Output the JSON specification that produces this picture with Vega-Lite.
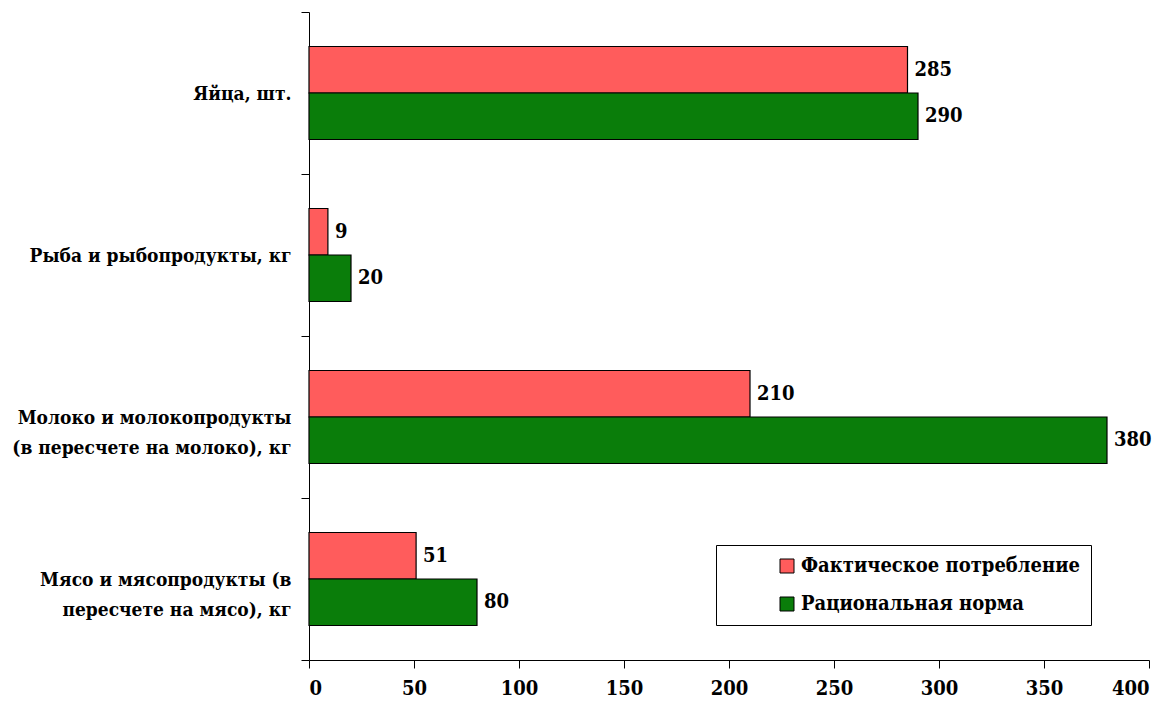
{
  "$schema": "https://vega.github.io/schema/vega-lite/v6.json",
  "width": 840,
  "height": 648,
  "autosize": {"type": "none"},
  "padding": {"left": 309, "top": 12, "right": 20, "bottom": 48},
  "background": "white",
  "config": {"view": {"stroke": null}, "font": "DejaVu Serif Condensed, DejaVu Serif"},
  "data": {
    "values": [
      {"category": "Яйца, шт.", "series": "Фактическое потребление", "value": 285},
      {"category": "Яйца, шт.", "series": "Рациональная норма", "value": 290},
      {"category": "Рыба и рыбопродукты, кг", "series": "Фактическое потребление", "value": 9},
      {"category": "Рыба и рыбопродукты, кг", "series": "Рациональная норма", "value": 20},
      {"category": "Молоко и молокопродукты|(в пересчете на молоко), кг", "series": "Фактическое потребление", "value": 210},
      {"category": "Молоко и молокопродукты|(в пересчете на молоко), кг", "series": "Рациональная норма", "value": 380},
      {"category": "Мясо и мясопродукты (в|пересчете на мясо), кг", "series": "Фактическое потребление", "value": 51},
      {"category": "Мясо и мясопродукты (в|пересчете на мясо), кг", "series": "Рациональная норма", "value": 80}
    ]
  },
  "encoding": {
    "y": {
      "field": "category",
      "type": "nominal",
      "sort": ["Яйца, шт.", "Рыба и рыбопродукты, кг", "Молоко и молокопродукты|(в пересчете на молоко), кг", "Мясо и мясопродукты (в|пересчете на мясо), кг"],
      "scale": {"paddingInner": 0, "paddingOuter": 0},
      "axis": {
        "title": null,
        "grid": false,
        "domainColor": "black",
        "tickColor": "black",
        "tickSize": 8,
        "tickBand": "extent",
        "labelFont": "DejaVu Serif Condensed, DejaVu Serif",
        "labelFontSize": 19,
        "labelFontWeight": "bold",
        "labelColor": "black",
        "labelPadding": 10,
        "labelLimit": 320,
        "labelLineHeight": 30,
        "labelExpr": "split(datum.label, '|')"
      }
    },
    "yOffset": {
      "field": "series",
      "type": "nominal",
      "sort": ["Фактическое потребление", "Рациональная норма"],
      "scale": {"paddingInner": 0, "paddingOuter": 0.742}
    },
    "x": {
      "field": "value",
      "type": "quantitative",
      "scale": {"domain": [0, 400], "nice": false},
      "axis": {
        "title": null,
        "grid": false,
        "values": [0, 50, 100, 150, 200, 250, 300, 350, 400],
        "domainColor": "black",
        "tickColor": "black",
        "tickSize": 8,
        "labelFont": "DejaVu Serif Condensed, DejaVu Serif",
        "labelFontSize": 20,
        "labelFontWeight": "bold",
        "labelColor": "black",
        "labelPadding": 10
      }
    }
  },
  "layer": [
    {
      "mark": {"type": "bar", "stroke": "black", "strokeWidth": 1.2},
      "encoding": {
        "color": {
          "field": "series",
          "type": "nominal",
          "scale": {"domain": ["Фактическое потребление", "Рациональная норма"], "range": ["#ff5c5c", "#0a7d0a"]},
          "legend": {
            "title": null,
            "orient": "none",
            "legendX": 407,
            "legendY": 533,
            "strokeColor": "black",
            "fillColor": "white",
            "padding": 11,
            "symbolType": "square",
            "symbolSize": 196,
            "symbolStrokeColor": "black",
            "symbolStrokeWidth": 1,
            "symbolOpacity": 1,
            "symbolOffset": 50,
            "labelFont": "DejaVu Serif Condensed, DejaVu Serif",
            "labelFontSize": 20,
            "labelFontWeight": "bold",
            "labelColor": "black",
            "labelOffset": 4,
            "labelLimit": 400,
            "rowPadding": 18
          }
        }
      }
    },
    {
      "mark": {"type": "text", "align": "left", "baseline": "middle", "dx": 7, "font": "DejaVu Serif Condensed, DejaVu Serif", "fontSize": 20, "fontWeight": "bold", "color": "black"},
      "encoding": {"text": {"field": "value", "type": "quantitative"}}
    }
  ]
}
